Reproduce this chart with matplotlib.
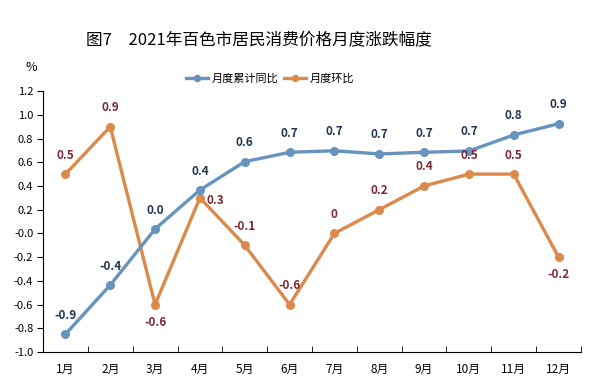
import numpy as np
import matplotlib
matplotlib.use('Agg')
import matplotlib.pyplot as plt

plt.rcParams['font.family'] = ['Noto Sans CJK SC', 'DejaVu Sans']

# data
months = ['1月', '2月', '3月', '4月', '5月', '6月', '7月', '8月', '9月', '10月', '11月', '12月']
cum_yoy = [-0.85, -0.435, 0.037, 0.366, 0.605, 0.684, 0.697, 0.67, 0.684, 0.695, 0.83, 0.925]
cum_yoy_labels = ['-0.9', '-0.4', '0.0', '0.4', '0.6', '0.7', '0.7', '0.7', '0.7', '0.7', '0.8', '0.9']
mom = [0.5, 0.9, -0.6, 0.3, -0.1, -0.6, 0, 0.2, 0.4, 0.5, 0.5, -0.2]
mom_labels = ['0.5', '0.9', '-0.6', '0.3', '-0.1', '-0.6', '0', '0.2', '0.4', '0.5', '0.5', '-0.2']

blue = '#6794BE'
orange = '#DB8A4C'
blue_txt = '#1F3550'
red_txt = '#7A2A35'

fig = plt.figure(figsize=(5.9, 3.86), dpi=100)
ax = fig.add_axes([0.0729, 0.088, 0.9118, 0.676])

x = np.arange(len(months))
ax.plot(x, cum_yoy, color=blue, lw=2.4, marker='o', ms=5.5, label='月度累计同比', zorder=3)
ax.plot(x, mom, color=orange, lw=2.4, marker='o', ms=5.5, label='月度环比', zorder=2)

# data labels
for i, (v, t) in enumerate(zip(cum_yoy, cum_yoy_labels)):
    ax.annotate(t, (i, v), xytext=(0, 9), textcoords='offset points',
                ha='center', va='bottom', fontsize=8.5, fontweight='bold', color=blue_txt)

mom_pos = ['above', 'above', 'below', 'right', 'above', 'above', 'above',
           'above', 'above', 'above', 'above', 'below']
for i, (v, t, p) in enumerate(zip(mom, mom_labels, mom_pos)):
    if p == 'above':
        xy, ha, va = (0, 9), 'center', 'bottom'
    elif p == 'below':
        xy, ha, va = (0, -8), 'center', 'top'
    else:
        xy, ha, va = (5, -2), 'left', 'center'
    ax.annotate(t, (i, v), xytext=xy, textcoords='offset points',
                ha=ha, va=va, fontsize=8.5, fontweight='bold', color=red_txt)

ax.set_ylim(-1.0, 1.2)
ax.set_yticks(np.arange(-1.0, 1.21, 0.2))
ax.set_yticklabels(['%.1f' % v for v in np.arange(-1.0, 1.21, 0.2)], fontsize=8)
ax.set_xlim(-0.5, len(months) - 0.5)
ax.set_xticks(x)
ax.set_xticklabels(months, fontsize=8.5)
ax.tick_params(axis='x', length=0, pad=8)
ax.set_xticks(np.arange(-0.5, len(months)), minor=True)
ax.tick_params(axis='x', which='minor', direction='in', length=4)
ax.tick_params(axis='y', direction='out', length=4, pad=3)

for s in ['top', 'right']:
    ax.spines[s].set_visible(False)

fig.text(0.438, 0.895, '图7　2021年百色市居民消费价格月度涨跌幅度', ha='center', va='center', fontsize=12)
fig.text(0.053, 0.825, '%', ha='center', va='center', fontsize=9)

ax.legend(loc='center', bbox_to_anchor=(0.458, 0.795), bbox_transform=fig.transFigure,
          ncol=2, frameon=False, fontsize=8, handlelength=2.0, columnspacing=0.5,
          handletextpad=0.3, markerscale=0.8)

fig.savefig('out.png', dpi=100)
